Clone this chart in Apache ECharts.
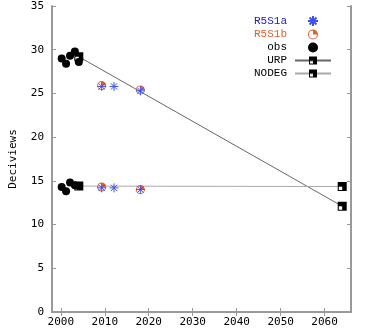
<!DOCTYPE html>
<html><head><meta charset="utf-8">
<script src="https://cdn.jsdelivr.net/npm/echarts@6/dist/echarts.min.js"></script>
<style>html,body{margin:0;padding:0;background:#fff}#c{width:365px;height:329px}</style>
</head><body><div id="c"></div>
<script>
// ---- data ----
const xTicks = [2000, 2010, 2020, 2030, 2040, 2050, 2060];
const yTicks = [0, 5, 10, 15, 20, 25, 30, 35];
const r5s1aYears = [2009.3, 2012.1, 2018.1, 2009.3, 2012.1, 2018.1];
const r5s1aValues = [25.8, 25.8, 25.3, 14.2, 14.2, 14.0];
const r5s1bYears = [2009.3, 2018.1, 2009.3, 2018.1];
const r5s1bValues = [25.9, 25.4, 14.3, 14.0];
const obsYears = [2000.2, 2001.2, 2002.1, 2003.2, 2004.1, 2000.2, 2001.2, 2002.1, 2003.2, 2004.1];
const obsValues = [29.0, 28.4, 29.3, 29.8, 28.6, 14.3, 13.8, 14.8, 14.5, 14.4];
const urpYears = [2004.1, 2064.0];
const urpValues = [29.2, 12.1];
const nodegYears = [2004.1, 2064.0];
const nodegValues = [14.4, 14.35];

const zip = (xs, ys) => xs.map((x, i) => [x, ys[i]]);

const asterisk = 'path://M0,5L10,5M5,0L5,10M1.5,1.5L8.5,8.5M8.5,1.5L1.5,8.5';
const halfCircle = 'path://M0,5A5,5 0 1,1 10,5A5,5 0 1,1 0,5ZM1,5A4,4 0 1,0 9,5A4,4 0 1,0 1,5ZM5,5L5,0A5,5 0 0,1 10,5Z';
const quadSquare = 'path://M0,0H10V10H5V5H0ZM0,5H1.2V10H0ZM0,8.8H5V10H0Z';

const chart = echarts.init(document.getElementById('c'));
const axisCol = '#999';
const mono = 'DejaVu Sans Mono';
chart.setOption({
  animation: false,
  grid: { left: 45, right: 14, top: 6, bottom: 17 },
  legend: {
    orient: 'vertical', align: 'right', right: 28, top: 10,
    itemWidth: 36, itemHeight: 10, itemGap: 2,
    textStyle: { fontFamily: 'Liberation Mono', fontSize: 11, color: '#000', padding: [0, 3, 0, 0] },
    data: [
      { name: 'R5S1a', textStyle: { color: '#2020b0' } },
      { name: 'R5S1b', textStyle: { color: '#e06030' } },
      { name: 'obs' }, { name: 'URP' }, { name: 'NODEG' }
    ]
  },
  xAxis: [{
    type: 'value', min: 1998, max: 2066, position: 'bottom',
    axisLine: { show: true, lineStyle: { color: axisCol, width: 2 } },
    axisTick: { inside: true, length: 4, lineStyle: { color: axisCol }, customValues: xTicks },
    axisLabel: { customValues: xTicks, formatter: v => String(v), fontFamily: mono, fontSize: 11, color: '#000', margin: 5 },
    splitLine: { show: false }
  }, {
    type: 'value', min: 1998, max: 2066, position: 'top',
    axisLine: { show: true, lineStyle: { color: axisCol, width: 2 } },
    axisTick: { inside: true, length: 4, lineStyle: { color: axisCol }, customValues: xTicks },
    axisLabel: { show: false }, splitLine: { show: false }
  }],
  yAxis: [{
    type: 'value', min: 0, max: 35, interval: 5, position: 'left',
    name: 'Deciviews', nameLocation: 'middle', nameGap: 33,
    nameTextStyle: { fontFamily: mono, fontSize: 11, color: '#000' },
    axisLine: { show: true, lineStyle: { color: axisCol, width: 2 } },
    axisTick: { inside: true, length: 4, lineStyle: { color: axisCol } },
    axisLabel: { fontFamily: mono, fontSize: 11, color: '#000', margin: 8 },
    splitLine: { show: false }
  }, {
    type: 'value', min: 0, max: 35, interval: 5, position: 'right',
    axisLine: { show: true, lineStyle: { color: axisCol, width: 2 } },
    axisTick: { inside: true, length: 4, lineStyle: { color: axisCol } },
    axisLabel: { show: false }, splitLine: { show: false }
  }],
  series: [
    { name: 'URP', type: 'line', data: zip(urpYears, urpValues), symbol: quadSquare, symbolSize: 9,
      itemStyle: { color: '#000', opacity: 1 }, lineStyle: { color: '#666', width: 1 }, z: 2 },
    { name: 'NODEG', type: 'line', data: zip(nodegYears, nodegValues), symbol: quadSquare, symbolSize: 9,
      itemStyle: { color: '#000', opacity: 1 }, lineStyle: { color: '#aaa', width: 1 }, z: 2 },
    { name: 'obs', type: 'scatter', data: zip(obsYears, obsValues), symbol: 'circle', symbolSize: 8,
      itemStyle: { color: '#000', opacity: 1 }, z: 3 },
    { name: 'R5S1b', type: 'scatter', data: zip(r5s1bYears, r5s1bValues), symbol: halfCircle, symbolSize: 9,
      itemStyle: { color: '#e06030', opacity: 1 }, z: 4 },
    { name: 'R5S1a', type: 'scatter', data: zip(r5s1aYears, r5s1aValues), symbol: asterisk, symbolSize: 9,
      itemStyle: { color: 'rgba(0,0,0,0)', borderColor: '#4050f0', borderWidth: 1, opacity: 1 }, z: 5 }
  ]
});
</script></body></html>
